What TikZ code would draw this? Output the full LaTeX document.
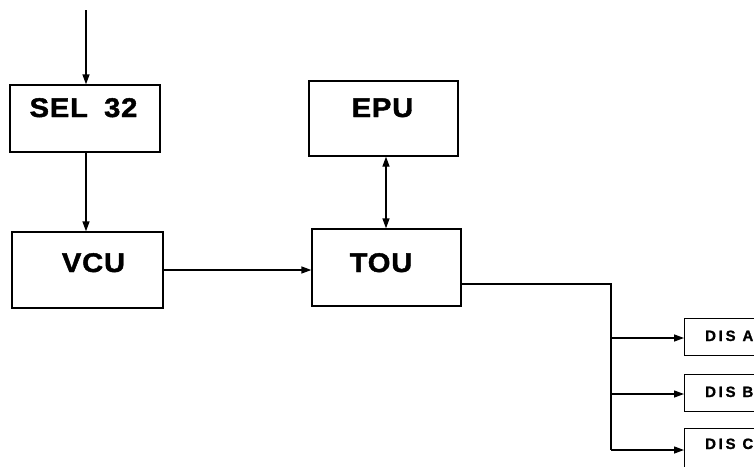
\documentclass[tikz,border=0pt]{standalone}
\usepackage{fontspec}
\newfontfamily\bigfont[FakeStretch=1.08,LetterSpace=3,FakeBold=1.6]{Liberation Sans Bold}
\newfontfamily\disfont[LetterSpace=18,FakeBold=1]{Liberation Sans Bold}
\usetikzlibrary{arrows.meta}
\begin{document}
\begin{tikzpicture}[x=1pt,y=-1pt,
  box/.style={draw,line width=1.3pt,inner sep=0pt},
  conn/.style={line width=1.3pt},
  tip/.style={-{Triangle[length=10pt,width=7pt]}},
  bigtxt/.style={font=\bigfont\fontsize{27}{27}\selectfont,anchor=base,inner sep=0pt},
  distxt/.style={font=\disfont\fontsize{15}{15}\selectfont,anchor=base west,inner sep=0pt}]
\clip (0,0) rectangle (754,466);
% boxes
\node[box,minimum width=150pt,minimum height=67pt] (sel) at (85,118.5) {};
\node[box,minimum width=151pt,minimum height=76pt] (vcu) at (87.5,270) {};
\node[box,minimum width=149pt,minimum height=75pt] (epu) at (383.5,118.5) {};
\node[box,minimum width=149pt,minimum height=77pt] (tou) at (386.5,267.5) {};
\node[box,minimum width=100pt,minimum height=37pt,anchor=north west] (disa) at (684,318) {};
\node[box,minimum width=100pt,minimum height=37pt,anchor=north west] (disb) at (684,374) {};
\node[box,minimum width=100pt,minimum height=60pt,anchor=north west] (disc) at (684,428) {};
% texts
\node[bigtxt] at (83.5,117) {SEL\hspace{0.6em}32};
\node[bigtxt] at (93.5,272) {VCU};
\node[bigtxt] at (382.5,117) {EPU};
\node[bigtxt] at (381,272) {TOU};
\node[distxt] at (705,341) {DIS A};
\node[distxt] at (705,397) {DIS B};
\node[distxt] at (705,449) {DIS C};
% connectors
\coordinate (in) at (86,10);
\coordinate (bus) at (611,284);
\draw[conn,tip] (in) -- (in |- sel.north);
\draw[conn,tip] (in |- sel.south) -- (in |- vcu.north);
\draw[conn,tip] (vcu.east |- 0,270) -- (tou.west |- 0,270);
\draw[conn,{Triangle[length=10pt,width=7pt]}-{Triangle[length=10pt,width=7pt]}] (386,0 |- epu.south) -- (386,0 |- tou.north);
\draw[conn] (tou.east |- bus) -- (bus) -- (611,450);
\draw[conn,tip] (611,338) -- (disa.west |- 0,338);
\draw[conn,tip] (611,394) -- (disb.west |- 0,394);
\draw[conn,tip] (611,450) -- (disc.west |- 0,450);
\end{tikzpicture}
\end{document}
